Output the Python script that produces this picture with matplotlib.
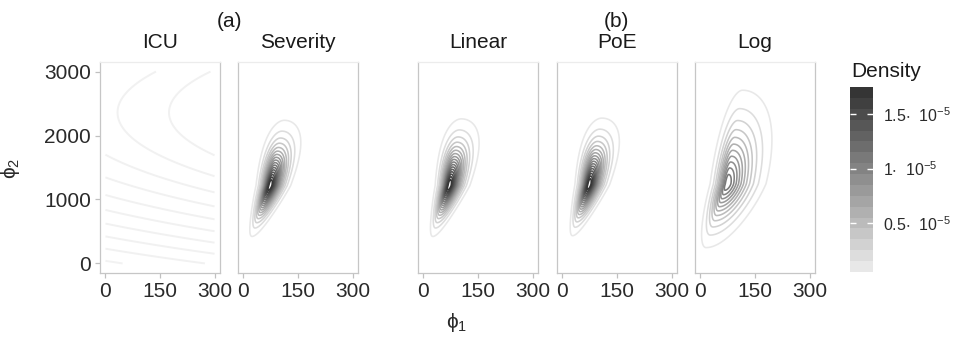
import numpy as np
import matplotlib
matplotlib.use("Agg")
import matplotlib.pyplot as plt
from matplotlib.colors import LinearSegmentedColormap, Normalize, BoundaryNorm, ListedColormap
from matplotlib.cm import ScalarMappable

plt.rcParams['font.family'] = ['Liberation Sans', 'DejaVu Sans']
plt.rcParams['mathtext.fontset'] = 'custom'
plt.rcParams['mathtext.rm'] = 'Liberation Sans'
plt.rcParams['mathtext.it'] = 'Liberation Sans'
plt.rcParams['mathtext.bf'] = 'Liberation Sans:bold'
plt.rcParams['mathtext.fallback'] = 'stixsans'

# ---------------- data ----------------
panel_titles = ['ICU', 'Severity', 'Linear', 'PoE', 'Log']
group_labels = ['(a)', '(b)']
x_ticks = [0, 150, 300]
y_ticks = [0, 1000, 2000, 3000]
grid_x = [0, 300]
grid_y = [0, 3000]

# density levels (units of 1e-5)
density_levels = [0.1, 0.2, 0.3, 0.4, 0.5, 0.6, 0.7, 0.8, 0.9, 1.0,
                  1.1, 1.2, 1.3, 1.4, 1.5, 1.6, 1.7]
cbar_ticks = [0.5, 1.0, 1.5]
cbar_ticklabels = [r'$0.5\mathrm{\cdot}\ \ 10^{-5}$', r'$1\mathrm{\cdot}\ \ 10^{-5}$',
                   r'$1.5\mathrm{\cdot}\ \ 10^{-5}$']

# ICU: very broad density, only faint contours
icu_center_x = 2025
icu_center_y = 2360
icu_sd = 2500
icu_peak = 0.0278
icu_levels = [0.01302, 0.01393, 0.01483, 0.01573, 0.01663, 0.01753,
              0.01844, 0.01934, 0.02024, 0.02114]

# Severity, Linear, PoE, Log : skewed unimodal densities
peak_x = [73, 71, 73, 73]
peak_y = [1215, 1218, 1230, 1244]
peak_density = [1.84, 1.84, 1.84, 1.19]
sd_y_low = [245, 246, 246, 343]
sd_y_high = [316, 322, 322, 504]
tilt_low = [15.3, 14.0, 14.0, 19.7]
tilt_high = [12.2, 10.3, 11.0, 14.8]
sd_x_left = [11.9, 12.0, 12.0, 16.0]
sd_x_right = [17.5, 17.5, 17.5, 36.9]
spread_growth = [0.15, 0.16, 0.16, 0.064]
tail_power = 1.5

# ---------------- figure ----------------
W, H = 956, 337
fig = plt.figure(figsize=(W / 100, H / 100), dpi=100)
fig.patch.set_facecolor('white')

cmap = LinearSegmentedColormap.from_list('greys', ['#f3f3f3', '#303030'])
norm = Normalize(vmin=0.0, vmax=1.75)

xs = np.linspace(grid_x[0], grid_x[1], 241)
ys = np.linspace(grid_y[0], grid_y[1], 241)
X, Y = np.meshgrid(xs, ys)

lefts_px = [100, 238, 418, 557, 695]
ax_w_px = 120
ax_top_px, ax_bot_px = 62, 273

axes = []
for i, left in enumerate(lefts_px):
    ax = fig.add_axes([left / W, (H - ax_bot_px) / H, ax_w_px / W,
                       (ax_bot_px - ax_top_px) / H])
    axes.append(ax)
    if i == 0:
        Z = icu_peak * np.exp(-((X - icu_center_x) ** 2 + (Y - icu_center_y) ** 2)
                              / (2 * icu_sd ** 2))
        lv = icu_levels
        lw = 1.4
    else:
        k = i - 1
        dy = Y - peak_y[k]
        v = np.where(dy < 0, dy / sd_y_low[k], dy / sd_y_high[k])
        xc = peak_x[k] + np.where(v < 0, tilt_low[k] * v, tilt_high[k] * v)
        sc = np.exp(spread_growth[k] * v)
        dx = X - xc
        u = np.where(dx < 0, dx / (sd_x_left[k] * sc), dx / (sd_x_right[k] * sc))
        r = np.sqrt(u ** 2 + v ** 2)
        Z = peak_density[k] * np.exp(-r ** tail_power / 2)
        lv = [l for l in density_levels if l < Z.max()]
        lw = 1.15
    ax.contour(X, Y, Z, levels=lv, cmap=cmap, norm=norm, linewidths=lw)

    ax.set_xlim(-15, 315)
    ax.set_ylim(-150, 3150)
    ax.set_xticks(x_ticks)
    ax.set_yticks(y_ticks)
    for s in ['left', 'right', 'bottom']:
        ax.spines[s].set_color('#c6c6c6')
        ax.spines[s].set_linewidth(0.9)
    ax.spines['top'].set_color('#ececec')
    ax.spines['top'].set_linewidth(0.9)
    ax.tick_params(length=3.5, width=0.9, color='#c0c0c0', labelsize=15,
                   labelcolor='#2a2a2a', pad=3)
    if i > 0:
        ax.tick_params(axis='y', left=False, labelleft=False)
    cx = (left + ax_w_px / 2) / W
    fig.text(cx, 1 - 48 / H, panel_titles[i], ha='center', va='baseline',
             fontsize=15, color='#1a1a1a')

# group labels
fig.text((100 + 358) / 2 / W, 1 - 27 / H, group_labels[0], ha='center',
         va='baseline', fontsize=15, color='#1a1a1a')
fig.text((418 + 815) / 2 / W, 1 - 27 / H, group_labels[1], ha='center',
         va='baseline', fontsize=15, color='#1a1a1a')

# axis labels
fig.text(10 / W, 1 - 168 / H, r'$\mathrm{ϕ}_{2}$', rotation=90, ha='center',
         va='center', fontsize=15, color='#2a2a2a')
fig.text(457 / W, 1 - 322 / H, r'$\mathrm{ϕ}_{1}$', ha='center', va='center',
         fontsize=15, color='#2a2a2a')

# colorbar
cax = fig.add_axes([850 / W, (H - 272) / H, 23 / W, (272 - 87) / H])
bounds = [l - 0.05 for l in density_levels] + [density_levels[-1] + 0.05]
cols = cmap(norm(np.array(density_levels)))
lcm = ListedColormap(cols)
bn = BoundaryNorm(bounds, lcm.N)
sm = ScalarMappable(norm=bn, cmap=lcm)
cb = fig.colorbar(sm, cax=cax, ticks=cbar_ticks)
cb.outline.set_visible(False)
cb.minorticks_off()
cb.ax.set_yticklabels(cbar_ticklabels)
cax.tick_params(axis='y', which='major', direction='in', length=4, width=1,
                color='white', left=True, right=True, labelsize=11.5, pad=7,
                labelcolor='#2a2a2a')
cax.tick_params(axis='y', which='minor', left=False, right=False)
fig.text(851 / W, 1 - 77 / H, 'Density', ha='left', va='baseline', fontsize=15,
         color='#1a1a1a')

fig.savefig('out.png', dpi=100, facecolor='white')
